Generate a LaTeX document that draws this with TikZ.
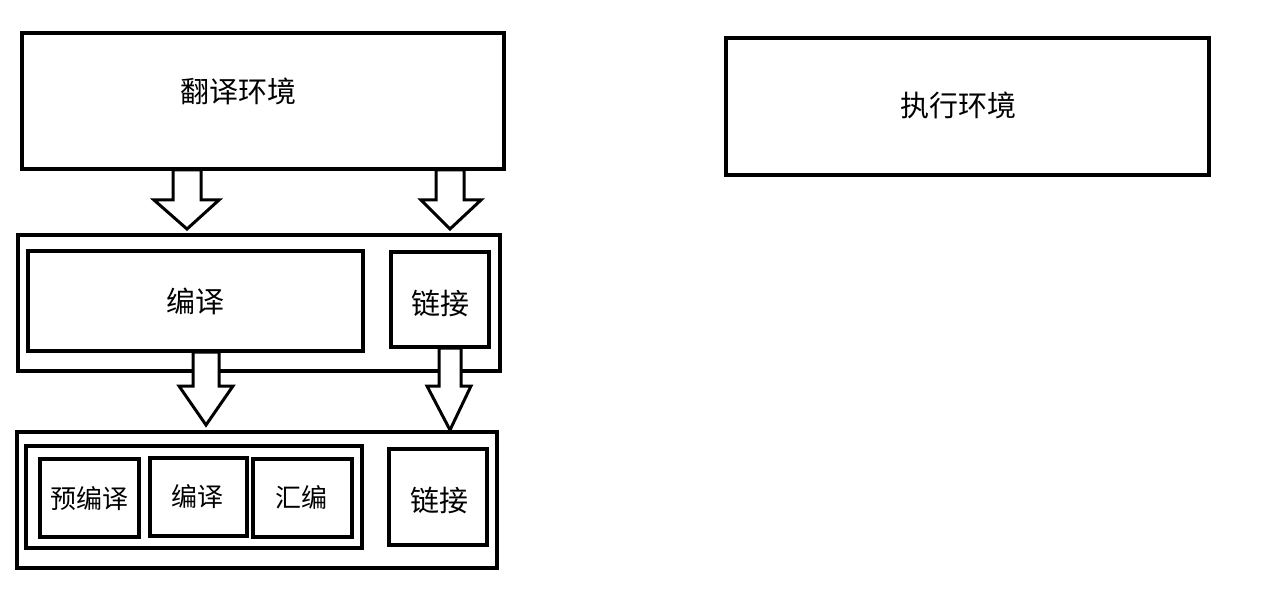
\documentclass[tikz,border=0pt]{standalone}
\usepackage{fontspec}
\setmainfont{Noto Sans CJK SC}
\begin{document}
\begin{tikzpicture}[x=1pt,y=-1pt,
  box/.style={draw,line width=3.5pt,fill=white},
  lbl/.style={font=\fontsize{29}{32}\selectfont\addfontfeature{FakeBold=0}},
  barrow/.style={draw,line width=3pt,fill=white,line join=miter}]
\useasboundingbox (0,0) rectangle (1267,604);
\newcommand{\bx}[4]{\draw[box] (#1,#2) rectangle (#3,#4);}
\newcommand{\barr}[7]{\draw[barrow] (#1,#3) -- (#1,#4) -- (#5,#4) -- ({(#1+#2)/2},#7) -- (#6,#4) -- (#2,#4) -- (#2,#3) -- cycle;}
\bx{22}{33}{504}{169}
\node[lbl] (fy) at (238,91) {翻译环境};
\bx{726}{38}{1209}{175}
\node[lbl] (zx) at (958,105) {执行环境};
\bx{18}{235}{500}{371}
\bx{28}{251}{363}{351}
\node[lbl] (by) at (195,301) {编译};
\bx{391}{252}{489}{347}
\node[lbl] (lj) at (440,303) {链接};
\bx{17}{432}{497}{568}
\bx{26}{446}{362}{548}
\bx{40}{459}{139}{537}
\node[lbl,font=\fontsize{26}{30}\selectfont] (yby) at (89,499) {预编译};
\bx{150}{458}{247}{536}
\node[lbl,font=\fontsize{26}{30}\selectfont] (by2) at (197,497) {编译};
\bx{253}{459}{352}{537}
\node[lbl,font=\fontsize{26}{30}\selectfont] (hb) at (301,497) {汇编};
\bx{389}{449}{487}{545}
\node[lbl] (lj2) at (439,500) {链接};
\barr{173}{201}{170}{200}{154}{219}{229}
\barr{436}{464}{170}{200}{421}{481}{229}
\barr{193}{219}{352}{386}{179}{233}{425}
\barr{439}{461}{348}{386}{427}{471}{430}
\end{tikzpicture}
\end{document}
